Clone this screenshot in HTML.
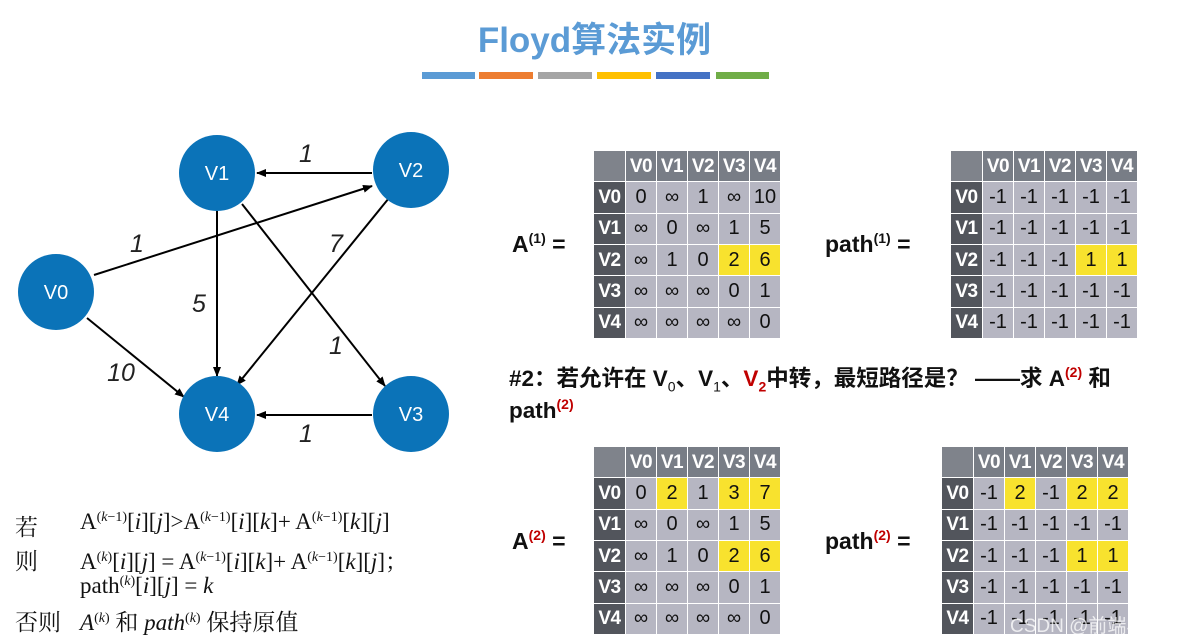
<!DOCTYPE html>
<html><head><meta charset="utf-8"><style>
*{margin:0;padding:0;box-sizing:border-box}
body{width:1189px;height:644px;background:#fff;position:relative;overflow:hidden;font-family:"Liberation Sans","Noto Sans CJK SC",sans-serif}
.abs{position:absolute}
table.m{position:absolute;border-collapse:collapse;table-layout:fixed;width:188px;height:189px}
table.m td{border:1px solid #fff;background:#b6b6c2;text-align:center;font-size:20px;color:#111;padding:0;height:31px;width:31px;line-height:29px}
table.m tr:first-child td{background:#787d86;color:#fff;font-weight:bold;font-size:19px;letter-spacing:-0.5px}
table.m tr:first-child td:first-child{background:#7f838b}
table.m td:first-child{background:#52555c;color:#fff;font-weight:bold;font-size:19px;width:32px;letter-spacing:-0.5px}
table.m td.y{background:#f8e22e}
.lbl{position:absolute;font-weight:bold;font-size:23px;color:#111}
.lbl sup{font-size:14px;vertical-align:9px}
.red{color:#c00000}
.f{position:absolute;font-family:"Liberation Serif","Noto Serif CJK SC",serif;font-size:23px;color:#111;white-space:nowrap}
.f sup{font-size:14px;vertical-align:8px}
</style></head><body>
<div class="abs" style="left:0;width:1189px;top:12px;text-align:center;font-size:35px;font-weight:bold;color:#5b9bd5;font-family:'Liberation Sans','Noto Sans CJK SC',sans-serif">Floyd算法实例</div>
<div class="abs" style="left:422px;top:72px;width:53px;height:7px;background:#5b9bd5"></div>
<div class="abs" style="left:479px;top:72px;width:54px;height:7px;background:#ed7d31"></div>
<div class="abs" style="left:538px;top:72px;width:54px;height:7px;background:#a5a5a5"></div>
<div class="abs" style="left:597px;top:72px;width:54px;height:7px;background:#ffc000"></div>
<div class="abs" style="left:656px;top:72px;width:54px;height:7px;background:#4472c4"></div>
<div class="abs" style="left:716px;top:72px;width:53px;height:7px;background:#70ad47"></div>

<svg class="abs" style="left:0;top:0" width="480" height="470">
<defs><marker id="a" markerWidth="10" markerHeight="8" refX="9" refY="4" orient="auto" markerUnits="userSpaceOnUse"><path d="M0,0 L10,4 L0,8 z" fill="#000"/></marker></defs>
<g stroke="#000" stroke-width="2" fill="none">
<line x1="372" y1="173" x2="257" y2="173" marker-end="url(#a)"/>
<line x1="94" y1="275" x2="372" y2="186" marker-end="url(#a)"/>
<line x1="217" y1="211" x2="217" y2="376" marker-end="url(#a)"/>
<line x1="242" y1="204" x2="385" y2="386" marker-end="url(#a)"/>
<line x1="389" y1="198" x2="237" y2="385" marker-end="url(#a)"/>
<line x1="87" y1="318" x2="184" y2="397" marker-end="url(#a)"/>
<line x1="372" y1="415" x2="257" y2="415" marker-end="url(#a)"/>
</g>
<g fill="#0b73b8">
<circle cx="217" cy="173" r="38"/><circle cx="411" cy="170" r="38"/><circle cx="56" cy="292" r="38"/><circle cx="217" cy="414" r="38"/><circle cx="411" cy="414" r="38"/>
</g>
<g fill="#fff" font-size="20" text-anchor="middle" font-family="Liberation Sans">
<text x="217" y="180">V1</text><text x="411" y="177">V2</text><text x="56" y="299">V0</text><text x="217" y="421">V4</text><text x="411" y="421">V3</text>
</g>
<g fill="#222" font-size="25" font-style="italic" text-anchor="middle" font-family="Liberation Sans">
<text x="306" y="162">1</text><text x="137" y="252">1</text><text x="336" y="252">7</text><text x="199" y="312">5</text><text x="336" y="354">1</text><text x="121" y="381">10</text><text x="306" y="442">1</text>
</g>
</svg>

<div class="lbl" style="left:512px;top:230px">A<sup>(1)</sup> =</div>
<div class="lbl" style="left:825px;top:230px">path<sup>(1)</sup> =</div>
<div class="lbl" style="left:512px;top:527px">A<sup class="red">(2)</sup> =</div>
<div class="lbl" style="left:825px;top:527px">path<sup class="red">(2)</sup> =</div>

<div class="lbl" style="left:509px;top:361px;font-size:22.5px;white-space:nowrap">#2：若允许在 V<sub style="font-size:14px;font-weight:normal">0</sub>、V<sub style="font-size:14px;font-weight:normal">1</sub>、<span class="red">V<sub style="font-size:14px">2</sub></span>中转，最短路径是？ ——求 A<sup class="red" style="font-size:14px">(2)</sup> 和</div>
<div class="lbl" style="left:509px;top:396px;font-size:22.5px">path<sup class="red" style="font-size:14px">(2)</sup></div>

<table class="m" style="left:593px;top:150px">
<tr><td></td><td>V0</td><td>V1</td><td>V2</td><td>V3</td><td>V4</td></tr>
<tr><td>V0</td><td>0</td><td>∞</td><td>1</td><td>∞</td><td>10</td></tr>
<tr><td>V1</td><td>∞</td><td>0</td><td>∞</td><td>1</td><td>5</td></tr>
<tr><td>V2</td><td>∞</td><td>1</td><td>0</td><td class="y">2</td><td class="y">6</td></tr>
<tr><td>V3</td><td>∞</td><td>∞</td><td>∞</td><td>0</td><td>1</td></tr>
<tr><td>V4</td><td>∞</td><td>∞</td><td>∞</td><td>∞</td><td>0</td></tr>
</table>
<table class="m" style="left:950px;top:150px">
<tr><td></td><td>V0</td><td>V1</td><td>V2</td><td>V3</td><td>V4</td></tr>
<tr><td>V0</td><td>-1</td><td>-1</td><td>-1</td><td>-1</td><td>-1</td></tr>
<tr><td>V1</td><td>-1</td><td>-1</td><td>-1</td><td>-1</td><td>-1</td></tr>
<tr><td>V2</td><td>-1</td><td>-1</td><td>-1</td><td class="y">1</td><td class="y">1</td></tr>
<tr><td>V3</td><td>-1</td><td>-1</td><td>-1</td><td>-1</td><td>-1</td></tr>
<tr><td>V4</td><td>-1</td><td>-1</td><td>-1</td><td>-1</td><td>-1</td></tr>
</table>
<table class="m" style="left:593px;top:446px">
<tr><td></td><td>V0</td><td>V1</td><td>V2</td><td>V3</td><td>V4</td></tr>
<tr><td>V0</td><td>0</td><td class="y">2</td><td>1</td><td class="y">3</td><td class="y">7</td></tr>
<tr><td>V1</td><td>∞</td><td>0</td><td>∞</td><td>1</td><td>5</td></tr>
<tr><td>V2</td><td>∞</td><td>1</td><td>0</td><td class="y">2</td><td class="y">6</td></tr>
<tr><td>V3</td><td>∞</td><td>∞</td><td>∞</td><td>0</td><td>1</td></tr>
<tr><td>V4</td><td>∞</td><td>∞</td><td>∞</td><td>∞</td><td>0</td></tr>
</table>
<table class="m" style="left:941px;top:446px">
<tr><td></td><td>V0</td><td>V1</td><td>V2</td><td>V3</td><td>V4</td></tr>
<tr><td>V0</td><td>-1</td><td class="y">2</td><td>-1</td><td class="y">2</td><td class="y">2</td></tr>
<tr><td>V1</td><td>-1</td><td>-1</td><td>-1</td><td>-1</td><td>-1</td></tr>
<tr><td>V2</td><td>-1</td><td>-1</td><td>-1</td><td class="y">1</td><td class="y">1</td></tr>
<tr><td>V3</td><td>-1</td><td>-1</td><td>-1</td><td>-1</td><td>-1</td></tr>
<tr><td>V4</td><td>-1</td><td>-1</td><td>-1</td><td>-1</td><td>-1</td></tr>
</table>
<div class="abs" style="left:1010px;top:611px;font-size:19px;white-space:nowrap;color:rgba(255,255,255,0.75);font-family:'Liberation Sans','Noto Sans CJK SC',sans-serif">CSDN @前端小马</div>

<div class="f" style="left:15px;top:509px">若</div>
<div class="f" style="left:80px;top:509px">A<sup>(<i>k</i>−1)</sup>[<i>i</i>][<i>j</i>]&gt;A<sup>(<i>k</i>−1)</sup>[<i>i</i>][<i>k</i>]+ A<sup>(<i>k</i>−1)</sup>[<i>k</i>][<i>j</i>]</div>
<div class="f" style="left:15px;top:543px">则</div>
<div class="f" style="left:80px;top:543px">A<sup>(<i>k</i>)</sup>[<i>i</i>][<i>j</i>] = A<sup>(<i>k</i>−1)</sup>[<i>i</i>][<i>k</i>]+ A<sup>(<i>k</i>−1)</sup>[<i>k</i>][<i>j</i>]；</div>
<div class="f" style="left:80px;top:573px">path<sup>(<i>k</i>)</sup>[<i>i</i>][<i>j</i>] = <i>k</i></div>
<div class="f" style="left:15px;top:604px">否则</div>
<div class="f" style="left:80px;top:604px"><i>A</i><sup>(<i>k</i>)</sup> 和 <i>path</i><sup>(<i>k</i>)</sup> 保持原值</div>
</body></html>
